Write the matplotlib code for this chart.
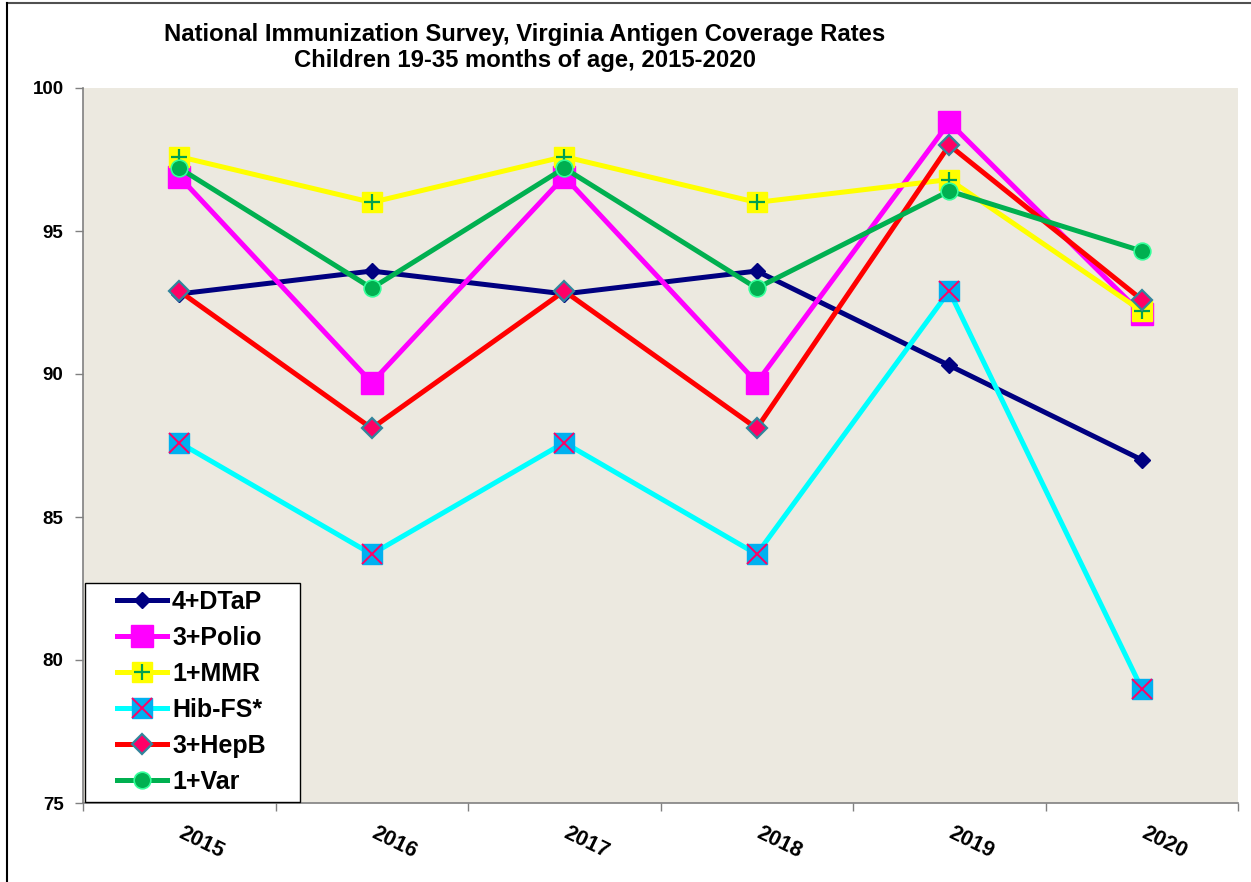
import matplotlib
matplotlib.use("Agg")
import matplotlib.pyplot as plt
from matplotlib.lines import Line2D
from matplotlib.patches import Rectangle
from matplotlib.legend_handler import HandlerTuple
from matplotlib.transforms import ScaledTranslation

plt.rcParams['font.family'] = ['Liberation Sans', 'DejaVu Sans']
plt.rcParams['font.weight'] = 'bold'

years = ["2015", "2016", "2017", "2018", "2019", "2020"]
dtap = [92.8, 93.6, 92.8, 93.6, 90.3, 87.0]
polio = [96.9, 89.7, 96.9, 89.7, 98.8, 92.1]
mmr = [97.6, 96.0, 97.6, 96.0, 96.8, 92.2]
hib = [87.6, 83.7, 87.6, 83.7, 92.9, 79.0]
hepb = [92.9, 88.1, 92.9, 88.1, 98.0, 92.6]
var = [97.2, 93.0, 97.2, 93.0, 96.4, 94.3]
labels = ["4+DTaP", "3+Polio", "1+MMR", "Hib-FS*", "3+HepB", "1+Var"]

W, H = 1251, 882
fig = plt.figure(figsize=(W / 100, H / 100), dpi=100)
L, R, B, T = 83, 1238, 803, 88
ax = fig.add_axes([L / W, 1 - B / H, (R - L) / W, (B - T) / H])
ax.set_facecolor('#ECE9E0')

x = list(range(len(years)))
lw = 3.6
handles = []

h, = ax.plot(x, dtap, color='#000080', lw=lw, marker='D', ms=8, mfc='#000080', mec='#000080', zorder=3)
handles.append(h)

h, = ax.plot(x, polio, color='#FF00FF', lw=lw, marker='s', ms=16, mfc='#FF00FF', mec='#FF00FF', zorder=3)
handles.append(h)

h1, = ax.plot(x, mmr, color='#FFFF00', lw=lw, marker='s', ms=15, mfc='#FFFF00', mec='#FFFF00', zorder=4)
h2, = ax.plot(x, mmr, ls='none', marker='+', ms=12, mec='#00A050', mew=1.6, zorder=4)
handles.append((h1, h2))

h1, = ax.plot(x, hib, color='#00FFFF', lw=lw, marker='s', ms=15, mfc='#00B0F0', mec='#00B0F0', zorder=4)
h2, = ax.plot(x, hib, ls='none', marker='x', ms=14, mec='#FF0066', mew=1.4, zorder=4)
handles.append((h1, h2))

h, = ax.plot(x, hepb, color='#FF0000', lw=lw, marker='D', ms=10.5, mfc='#FF0066', mec='#31859C', mew=1.6, zorder=5)
handles.append(h)

h, = ax.plot(x, var, color='#00B050', lw=lw, marker='o', ms=12, mfc='#00B050', mec='#33FF99', mew=1.2, zorder=6)
handles.append(h)

ax.set_xlim(-0.5, len(years) - 0.5)
ax.set_ylim(75, 100)
ax.set_yticks([75, 80, 85, 90, 95, 100])
ax.set_xticks(x)
ax.set_xticklabels(years, rotation=-26, fontsize=15.5, fontweight='bold')
ax.set_xticks([i - 0.5 for i in range(len(years) + 1)], minor=True)
ax.tick_params(axis='x', which='major', length=0, pad=14)
ax.tick_params(axis='x', which='minor', length=6, width=1, color='#808080', direction='out')
ax.tick_params(axis='y', length=6, width=1, color='#808080', direction='out', labelsize=13.5, pad=8)
for lab in ax.get_yticklabels():
    lab.set_fontweight('bold')
for lab in ax.get_xticklabels():
    lab.set_transform(lab.get_transform() + ScaledTranslation(0.22, 0, fig.dpi_scale_trans))

for s in ['top', 'right']:
    ax.spines[s].set_visible(False)
for s in ['left', 'bottom']:
    ax.spines[s].set_color('#808080')
    ax.spines[s].set_linewidth(1.2)

# legend box
box = Rectangle((85 / W, 1 - 802 / H), (300 - 85) / W, (802 - 583) / H,
                transform=fig.transFigure, facecolor='white', edgecolor='black',
                linewidth=1.0, zorder=8)
ax.add_patch(box)
box.set_clip_on(False)

leg = ax.legend(handles, labels, loc='upper left',
                bbox_to_anchor=(117 / W, 1 - 590 / H), bbox_transform=fig.transFigure,
                handler_map={tuple: HandlerTuple(ndivide=1)},
                prop={'weight': 'bold', 'size': 18}, frameon=False,
                handlelength=2.0, labelspacing=0.48,
                borderpad=0.0, handletextpad=0.2, borderaxespad=0.0)
leg.set_zorder(10)

# chart border lines
fig.add_artist(Line2D([7 / W, 1], [1 - 3 / H, 1 - 3 / H], transform=fig.transFigure,
                      color='#505050', lw=1.5))
fig.add_artist(Line2D([7 / W, 7 / W], [0, 1 - 3 / H], transform=fig.transFigure,
                      color='black', lw=1.5))

fig.text(525 / W, 1 - 34 / H, "National Immunization Survey, Virginia Antigen Coverage Rates",
         ha='center', va='center', fontsize=17.2, fontweight='bold')
fig.text(525 / W, 1 - 61 / H, "Children 19-35 months of age, 2015-2020",
         ha='center', va='center', fontsize=17.2, fontweight='bold')

fig.savefig('out.png', dpi=100)
